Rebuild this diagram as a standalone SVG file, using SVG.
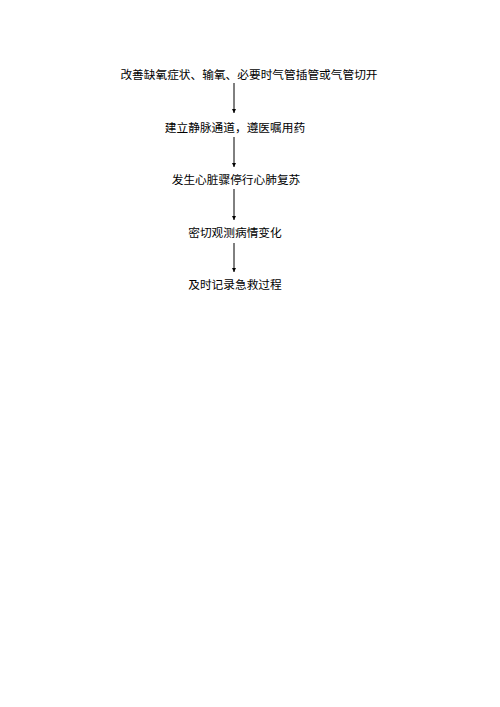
<svg xmlns="http://www.w3.org/2000/svg" width="500" height="707" viewBox="0 0 500 707">
<style>
text{font-family:"Noto Sans CJK SC","Noto Sans CJK JP",sans-serif;font-size:11.7px;fill:#000;text-anchor:middle;dominant-baseline:central}
.c{stroke:#000;stroke-width:1;fill:none}
</style>
<defs>
<marker id="ah" viewBox="0 0 10 10" refX="10" refY="5" markerWidth="4" markerHeight="4" markerUnits="userSpaceOnUse" orient="auto"><path d="M0,0L10,5L0,10z" fill="#000"/></marker>
</defs>
<rect width="500" height="707" fill="#fff"/>
<g id="connectors">
<line class="c" x1="234" y1="83" x2="234" y2="113" marker-end="url(#ah)"/>
<line class="c" x1="234" y1="137" x2="234" y2="167" marker-end="url(#ah)"/>
<line class="c" x1="234" y1="189" x2="234" y2="220" marker-end="url(#ah)"/>
<line class="c" x1="234" y1="243" x2="234" y2="272" marker-end="url(#ah)"/>
</g>
<g id="n1"><text x="249" y="73">改善缺氧症状、输氧、必要时气管插管或气管切开</text></g>
<g id="n2"><text x="235" y="126">建立静脉通道，遵医嘱用药</text></g>
<g id="n3"><text x="236" y="178">发生心脏骤停行心肺复苏</text></g>
<g id="n4"><text x="235" y="231">密切观测病情变化</text></g>
<g id="n5"><text x="235" y="283">及时记录急救过程</text></g>
</svg>
